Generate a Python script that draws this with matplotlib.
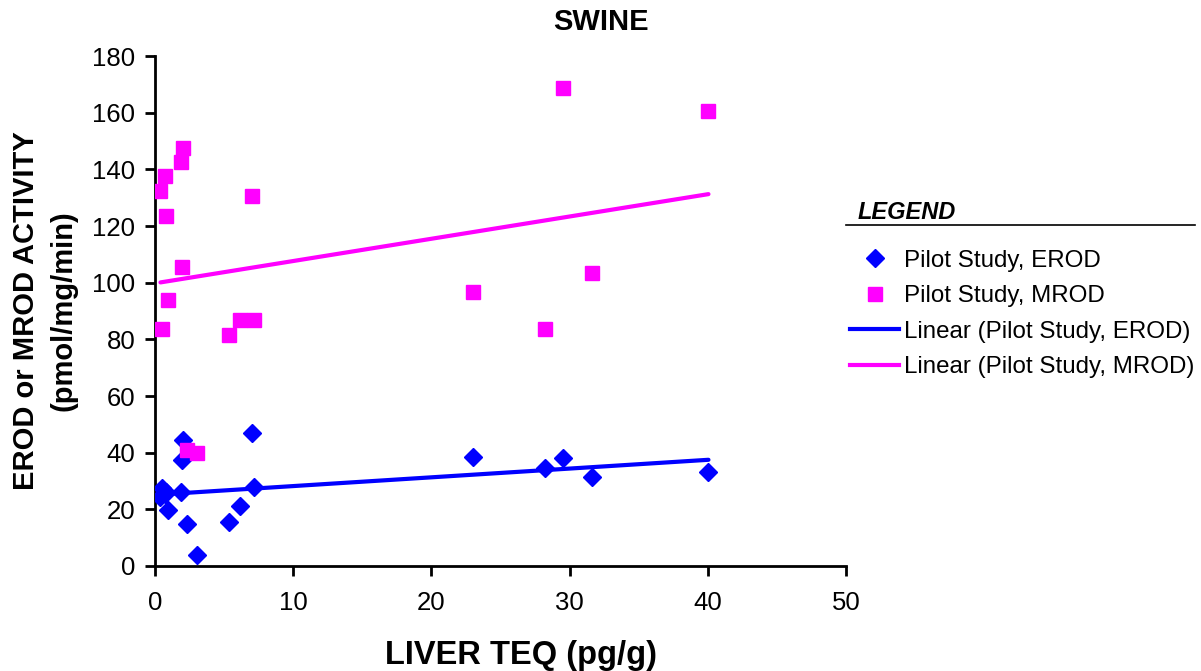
import numpy as np
import matplotlib.pyplot as plt
from matplotlib.lines import Line2D

plt.rcParams['font.family'] = ['Liberation Sans', 'DejaVu Sans']

# liver TEQ (pg/g) for each animal
teq = [29.5, 40.05, 2.06, 1.9, 0.7, 0.4, 7.0, 0.83, 1.93, 31.6,
       23.0, 0.97, 6.16, 7.16, 0.5, 28.2, 5.36, 2.3, 3.06]
erod = [38.2, 33.0, 44.3, 26.0, 25.5, 24.4, 47.0, 26.2, 37.3, 31.4,
        38.5, 19.9, 21.1, 27.9, 27.4, 34.5, 15.4, 14.8, 3.9]
mrod = [168.7, 160.7, 147.7, 142.6, 137.7, 132.3, 130.5, 123.5, 105.7, 103.3,
        96.6, 93.9, 87.0, 87.0, 83.7, 83.7, 81.6, 41.1, 39.9]

C_EROD = '#0000ff'
C_MROD = '#ff00ff'

fig = plt.figure(figsize=(12.01, 6.71), dpi=100)
ax = fig.add_axes([0.129, 0.1565, 0.5754, 0.76])

ax.plot(teq, erod, 'D', color=C_EROD, markersize=9, zorder=3)
ax.plot(teq, mrod, 's', color=C_MROD, markersize=10.5, zorder=3)

# linear trend lines, least squares over the data range
x = np.array(teq)
xs = np.array([x.min(), x.max()])
for y, c in [(erod, C_EROD), (mrod, C_MROD)]:
    k, b = np.polyfit(x, y, 1)
    ax.plot(xs, k * xs + b, color=c, lw=3, solid_capstyle='round', zorder=2)

ax.set_xlim(0, 50)
ax.set_ylim(0, 180)
ax.set_xticks(range(0, 51, 10))
ax.set_yticks(range(0, 181, 20))
for s in ['top', 'right']:
    ax.spines[s].set_visible(False)
for s in ['left', 'bottom']:
    ax.spines[s].set_linewidth(2)
ax.tick_params(direction='out', length=7, width=2, labelsize=18.5)
ax.tick_params(axis='x', pad=11)
ax.tick_params(axis='y', pad=7)

ax.set_xlabel('LIVER TEQ (pg/g)', fontsize=23.5, fontweight='bold')
ax.xaxis.set_label_coords(0.53, -0.175)
ax.xaxis.label.set_va('center')
ax.set_ylabel('EROD or MROD ACTIVITY\n(pmol/mg/min)', fontsize=21, fontweight='bold',
              linespacing=1.42)
ax.yaxis.set_label_coords(-0.159, 0.5)
ax.yaxis.label.set_va('center')
fig.text(0.5, 0.967, 'SWINE', ha='center', va='center', fontsize=21, fontweight='bold')

# legend
fig.text(0.714, 0.683, 'LEGEND', fontsize=17, fontweight='bold', style='italic',
         ha='left', va='center')
fig.add_artist(Line2D([0.704, 0.995], [0.665, 0.665], color='black', lw=1.2))
handles = [
    Line2D([], [], ls='none', marker='D', color=C_EROD, markersize=9),
    Line2D([], [], ls='none', marker='s', color=C_MROD, markersize=10.5),
    Line2D([], [], color=C_EROD, lw=3),
    Line2D([], [], color=C_MROD, lw=3),
]
labels = ['Pilot Study, EROD', 'Pilot Study, MROD',
          'Linear (Pilot Study, EROD)', 'Linear (Pilot Study, MROD)']
fig.legend(handles, labels, loc='upper left', bbox_to_anchor=(0.7077, 0.628),
           frameon=False, fontsize=17.4, handlelength=2.05, handletextpad=0.2,
           labelspacing=0.56, borderaxespad=0, borderpad=0)

fig.savefig('out.png', dpi=100)
